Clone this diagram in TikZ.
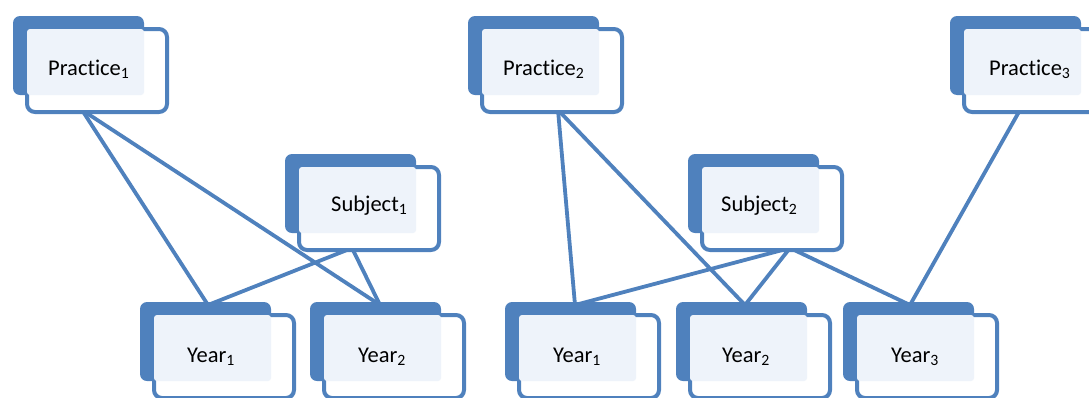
\documentclass[tikz,border=0pt]{standalone}
\usepackage{fontspec}
\setmainfont[Ligatures=NoCommon]{Carlito}
\definecolor{boxblue}{HTML}{4F81BD}
\definecolor{boxlight}{HTML}{EEF3FA}
\tikzset{
  frontbox/.style={draw=boxblue, fill=white, line width=4pt, rounded corners=8pt,
    minimum width=140pt, minimum height=83pt, inner sep=0pt, anchor=north west},
  lbl/.style={anchor=base west, inner sep=0pt, font=\fontsize{22.5}{27}\selectfont},
  conn/.style={draw=boxblue, line width=3.8pt}
}
\newcommand\stackbox[3]{%
  \fill[boxblue, rounded corners=7pt] (#2-12,#3-11) rectangle ++(131,79);
  \node[frontbox] (#1) at (#2,#3) {};
  \fill[boxlight, rounded corners=3pt] (#2+2,#3+2) rectangle ++(117,66);
}
\begin{document}
\begin{tikzpicture}[x=1pt,y=-1pt]
\useasboundingbox (0,0) rectangle (1089,397);
% connectors first (boxes drawn over them)
\coordinate (p1b) at (82,110);
\coordinate (p2b) at (558,110);
\coordinate (p3b) at (1020,110);
\coordinate (s1b) at (352,248);
\coordinate (s2b) at (790,248);
\coordinate (y1Lt) at (208,305);
\coordinate (y2Lt) at (380,305);
\coordinate (y1Rt) at (575,305);
\coordinate (y2Rt) at (745,305);
\coordinate (y3Rt) at (910,305);
\draw[conn] (p1b) -- (y1Lt);
\draw[conn] (p1b) -- (y2Lt);
\draw[conn] (s1b) -- (y1Lt);
\draw[conn] (s1b) -- (y2Lt);
\draw[conn] (p2b) -- (y1Rt);
\draw[conn] (p2b) -- (y2Rt);
\draw[conn] (s2b) -- (y1Rt);
\draw[conn] (s2b) -- (y2Rt);
\draw[conn] (s2b) -- (y3Rt);
\draw[conn] (p3b) -- (y3Rt);
% boxes
\stackbox{P1}{25}{27}
\stackbox{S1}{297}{165}
\stackbox{Y1L}{152}{313}
\stackbox{Y2L}{322}{313}
\stackbox{P2}{480}{27}
\stackbox{P3}{962}{27}
\stackbox{S2}{700}{165}
\stackbox{Y1R}{517}{313}
\stackbox{Y2R}{688}{313}
\stackbox{Y3R}{855}{313}
% labels
\node[lbl] (tP1) at (48,75) {Practice\textsubscript{1}};
\node[lbl] (tS1) at (331,211) {Subject\textsubscript{1}};
\node[lbl] (tY1L) at (187,362) {Year\textsubscript{1}};
\node[lbl] (tY2L) at (358,362) {Year\textsubscript{2}};
\node[lbl] (tP2) at (503,75) {Practice\textsubscript{2}};
\node[lbl] (tP3) at (989,75) {Practice\textsubscript{3}};
\node[lbl] (tS2) at (721,211) {Subject\textsubscript{2}};
\node[lbl] (tY1R) at (553,362) {Year\textsubscript{1}};
\node[lbl] (tY2R) at (722,362) {Year\textsubscript{2}};
\node[lbl] (tY3R) at (891,362) {Year\textsubscript{3}};
\end{tikzpicture}
\end{document}
